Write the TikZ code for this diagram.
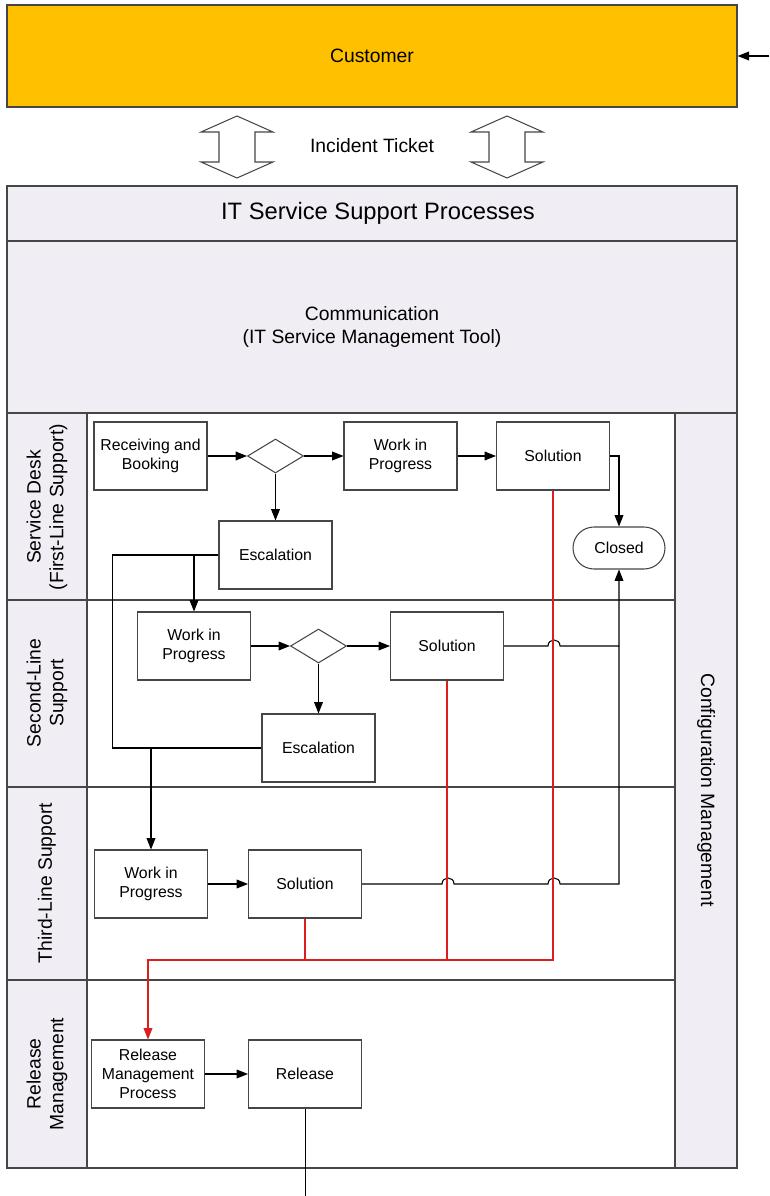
\documentclass[tikz,border=0pt]{standalone}
\usepackage{fontspec}
\setmainfont{Liberation Sans}
\usepackage{tikz}
\usetikzlibrary{shapes,arrows,arrows.meta,positioning,calc}
\definecolor{custorange}{RGB}{255,192,0}
\definecolor{lanegray}{RGB}{240,238,244}
\definecolor{framegray}{RGB}{70,70,70}
\definecolor{relred}{RGB}{220,30,30}

\begin{document}
\begin{tikzpicture}[
    x=0.02cm, y=-0.02cm,
    box/.style={rectangle, draw=framegray, line width=0.6pt, minimum width=2.26cm, minimum height=1.36cm, align=center, font=\fontsize{9}{11}\selectfont, inner sep=1pt},
    decision/.style={diamond, draw=framegray, line width=0.6pt, aspect=1.6, minimum width=1.12cm, minimum height=0.68cm, inner sep=0pt},
    terminal/.style={rectangle, rounded corners=0.42cm, draw=framegray, line width=0.6pt, minimum width=1.84cm, minimum height=0.84cm, font=\fontsize{9}{11}\selectfont},
    frame/.style={draw=framegray, line width=0.8pt},
    lanelabel/.style={align=center, font=\fontsize{11}{13}\selectfont},
    arrow/.style={->, >={Triangle[length=6.5pt,width=5pt]}, line width=0.6pt},
    redline/.style={relred, line width=0.8pt},
]
    \useasboundingbox (0,0) rectangle (769,1196);

    % Customer
    \node[frame, fill=custorange, minimum width=14.6cm, minimum height=2.04cm, font=\fontsize{11}{13}\selectfont] (customer) at (372,56) {Customer};
    \coordinate (custin) at (769,56);
    \draw[arrow] (custin) -- (customer.east);

    % Incident ticket
    \foreach \cx in {237,507}
        \draw[draw=framegray, line width=0.6pt, fill=white, shift={(\cx,0)}]
            (0,116) -- (36,132) -- (18,132) -- (18,162) -- (36,162) -- (0,178)
            -- (-36,162) -- (-18,162) -- (-18,132) -- (-36,132) -- cycle;
    \node[lanelabel] (ticket) at (372,146) {Incident Ticket};

    % Frame
    \draw[frame, fill=lanegray] (7,186) rectangle (737,413);
    \draw[frame] (7,241) -- (737,241);
    \draw[frame, fill=lanegray] (7,413) rectangle (87,1168);
    \draw[frame, fill=lanegray] (675,413) rectangle (737,1168);
    \draw[frame, fill=white] (87,413) rectangle (675,1168);
    \foreach \y in {600,787,980}
        \draw[frame] (7,\y) -- (675,\y);

    \node[font=\fontsize{13.5}{16}\selectfont] (title) at (378,213) {IT Service Support Processes};
    \node[lanelabel] (comm) at (372,327) {Communication\\(IT Service Management Tool)};

    % Lane labels
    \node[lanelabel, rotate=90] (lane1) at (47,507) {Service Desk\\(First-Line Support)};
    \node[lanelabel, rotate=90] (lane2) at (47,693) {Second-Line\\Support};
    \node[lanelabel, rotate=90] (lane3) at (47,883) {Third-Line Support};
    \node[lanelabel, rotate=90] (lane4) at (47,1074) {Release\\Management};
    \node[lanelabel, rotate=-90] (config) at (706,790) {Configuration Management};

    % Service Desk
    \node[box] (rb) at (150.5,456) {Receiving and\\Booking};
    \node[decision] (d1) at (275.5,456) {};
    \node[box] (w1) at (400.5,456) {Work in\\Progress};
    \node[box] (s1) at (553,456) {Solution};
    \node[box] (e1) at (275.5,555) {Escalation};
    \node[terminal] (c1) at (619,548) {Closed};

    % Second-Line
    \node[box] (w2) at (194,646) {Work in\\Progress};
    \node[decision] (d2) at (318.5,646) {};
    \node[box] (s2) at (447,646) {Solution};
    \node[box] (e2) at (318.5,748) {Escalation};

    % Third-Line
    \node[box] (w3) at (151,884) {Work in\\Progress};
    \node[box] (s3) at (305,884) {Solution};

    % Release
    \node[box] (rm) at (148,1074) {Release\\Management\\Process};
    \node[box] (rel) at (305,1074) {Release};
    \coordinate (relout) at (305,1196);
    \coordinate (bus) at (0,960);

    \draw[arrow] (rb) -- (d1);
    \draw[arrow] (d1) -- (w1);
    \draw[arrow] (w1) -- (s1);
    \draw[arrow] (d1) -- (e1);
    \draw[arrow] (s1.east) -| (c1.north);

    \draw[arrow] (w2) -- (d2);
    \draw[arrow] (d2) -- (s2);
    \draw[arrow] (d2) -- (e2);

    \draw[arrow] (w3) -- (s3);
    \draw[arrow] (rm) -- (rel);
    \draw (rel.south) -- (relout);

    % Escalation paths
    \draw[line width=0.6pt] (e1.west) -- ++(-106,0) |- (e2.west);
    \draw[arrow] (e1.west -| w2.north) -- (w2.north);
    \draw[arrow] (e2.west -| w3.north) -- (w3.north);

    % Solutions to closed (jumps over red lines)
    \draw[arrow] (s2.east) -- ++(44,0) .. controls +(0,-8) and +(0,-8) .. ++(12,0) -| (c1.south);
    \draw[line width=0.6pt] (s3.east) -- ++(80,0) .. controls +(0,-8) and +(0,-8) .. ++(12,0)
        -- ++(94,0) .. controls +(0,-8) and +(0,-8) .. ++(12,0) -| (c1.south |- s2.east);

    % To release management
    \draw[redline, arrow] (s1.south) |- (bus -| rm.north) -- (rm.north);
    \draw[redline] (s2.south) -- (s2.south |- bus);
    \draw[redline] (s3.south) -- (s3.south |- bus);
\end{tikzpicture}
\end{document}
